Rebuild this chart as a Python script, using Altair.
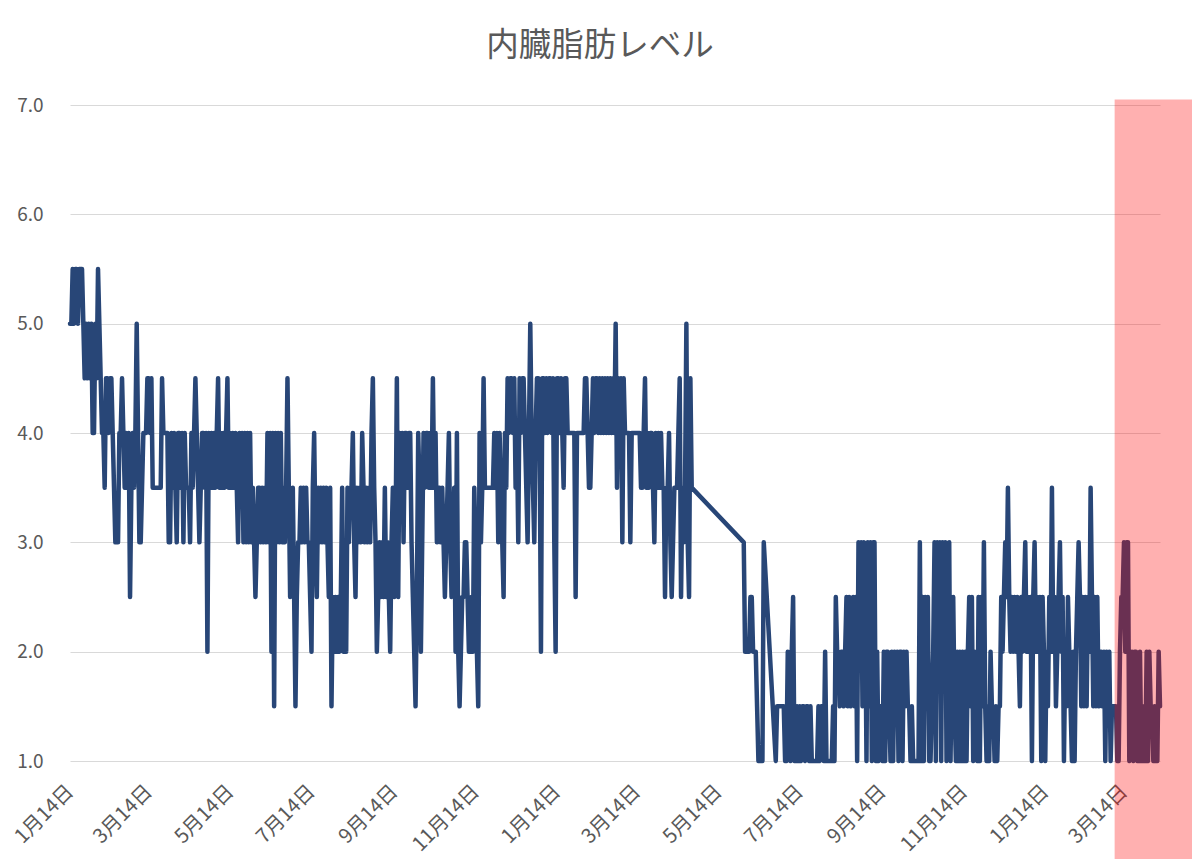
import altair as alt
import pandas as pd

title_text = "内臓脂肪レベル"

# --- series: daily values, consecutive days from each segment start ---
seg_a_start = "2019-01-14"
a1 = [5.0,5.0,5.5,5.0,5.5,5.5,5.0,5.5,5.5,5.5, 5.0,4.5,5.0,4.5,5.0,4.5,5.0,4.0,4.0,5.0,
      4.5,5.5,5.0,4.5,4.0,4.0,3.5,4.5,4.5,4.0, 4.5,4.5,4.0,3.5,3.0,3.0,3.0,4.0,4.0,4.5,
      4.0,3.5,4.0,3.5,4.0,2.5,3.5,4.0,3.5,4.0, 5.0,4.0,3.0,3.0,3.5,4.0,4.0,4.0,4.5,4.5,
      4.0,4.5,3.5,3.5]
a2 = [3.5,3.5,3.5,3.5,3.5, 4.5,4.0,4.0,4.0,4.0, 3.0,3.0,4.0,3.5,4.0, 3.5,3.0,4.0,4.0,3.5,
      4.0,3.0,4.0,3.5,3.5, 3.5,3.0,4.0,3.5,4.0, 4.5,4.0,3.5,3.0,3.5, 4.0,4.0,3.5,4.0,2.0,
      4.0,3.5,4.0,3.5,4.0, 3.5,4.0,4.5,3.5,4.0, 3.5,4.0,3.5,4.0,4.5, 3.5,4.0,3.5,4.0,3.5,
      4.0,3.5,3.0,4.0,3.5, 4.0,3.0,4.0]
a3 = [3.0,4.0,3.0,4.0,3.0, 3.5,3.0,2.5,3.0,3.5, 3.5,3.0,3.5,3.0,3.5, 3.0,4.0,3.0,4.0,2.0,
      4.0,1.5,4.0,3.0,4.0, 3.0,4.0,3.0,3.5,3.0, 3.5,4.5,3.5,2.5,3.0, 3.5,2.5,1.5,2.5,3.0,
      3.0,3.5,3.0,3.5,3.0, 3.5,3.0,3.0,2.5,2.0, 3.5,4.0,3.0,2.5,3.5, 3.0,3.5,3.0,3.5,3.0,
      3.5,3.0,2.5,3.5,1.5, 2.5,2.0,2.5]
a4 = [2.0,2.5,2.0,2.5,3.5, 2.0,2.5,2.0,3.5,3.0, 3.5,3.5,4.0,3.0,2.5, 3.5,3.0,3.5,3.0,4.0,
      3.5,3.0,3.5,3.0,3.5, 3.0,4.0,4.5,3.5,3.0, 2.0,2.5,3.0,2.5,3.0, 2.5,3.5,2.5,3.0,2.5,
      2.0,3.0,3.5,2.5,3.0, 4.5,2.5,4.0,3.5,4.0, 3.0,4.0,4.0,3.5,4.0, 4.0,3.0,2.5,2.0,1.5,
      2.5,4.0,3.5,2.0,3.0, 4.0,3.5]
a5 = [4.0,4.0,3.5,4.0,3.5, 4.5,3.5,4.0,3.0,3.5, 3.5,3.0,3.5,3.0,2.5, 3.0,3.5,4.0,3.0,2.5,
      3.0,3.5,2.0,4.0,2.0, 1.5,2.0,2.5,2.5,3.0, 3.0,2.5,2.0,2.0,2.5, 2.0,3.5,3.0,2.0,1.5,
      4.0,3.0,3.5,4.5,3.5, 3.5,3.5,3.5,3.5,3.5, 3.5,4.0,3.5,4.0,3.0, 4.0,3.5,3.0,2.5,4.0,
      3.5,4.5,4.0,4.5,4.5, 4.0,4.5,3.5]
a6 = [4.0,3.0,4.5,4.0,4.5, 4.5,4.0,3.5,3.0,4.0, 5.0,4.0,3.5,3.0,4.0, 4.5,4.5,4.0,2.0,4.5,
      4.5,4.0,4.5,4.0,4.5, 4.5,4.0,4.5,3.0,2.0, 4.5,4.5,4.0,4.5,4.0, 3.5,4.5,4.5,4.0,4.0,
      4.0,4.0,4.0,4.0,2.5, 4.0,4.0,4.0,4.0,4.0, 4.0,4.5,4.5,4.0,3.5, 3.5,4.0,4.5,4.0,4.5,
      4.5,4.0,4.5,4.0,4.5]
a7 = [4.0,4.5,4.0,4.5,4.0, 4.5,4.0,4.5,4.0,5.0, 3.5,4.5,4.0,4.5,3.0, 4.5,4.0,4.0,4.0,4.0,
      3.0,4.0,4.0,4.0,4.0, 4.0,4.0,4.0,3.5,3.5, 4.0,4.5,3.5,4.0,3.5, 4.0,4.0,3.5,3.0,4.0,
      3.5,4.0,3.5,4.0,3.5, 3.5,2.5,3.5,3.5,4.0, 3.0,2.5,3.0,3.5,3.5, 3.5,4.0,4.5,2.5,3.5,
      3.0,3.5,5.0,3.0,2.5, 4.5,3.5]

seg_b_start = "2020-06-02"
b1 = [3.0,2.0,2.0,2.0,2.0,2.5,2.5,2.0,2.0,2.0,1.5,1.0,1.0,1.0,1.0,3.0]

seg_c_start = "2020-06-26"
c1 = [1.0,1.5,1.5,1.5,1.5, 1.5,1.5,1.0,1.0,2.0, 1.5,1.0,2.0,2.5,1.0, 1.0,1.5,1.0,1.5,1.0,
      1.5,1.5,1.0,1.5,1.5, 1.0,1.5,1.0,1.0,1.0, 1.0,1.0,1.5,1.0,1.5, 1.5,1.0,2.0,1.0,1.0,
      1.0,1.0,1.0,1.5,1.0, 2.5,2.0,2.0,1.5,2.0, 2.0,1.5,2.0,2.5,1.5, 2.5,1.5,2.0,2.5,1.5,
      2.5,1.0,3.0,2.0,3.0, 1.5,3.0,2.5,1.0]
c2 = [3.0,1.5,3.0,1.0,3.0, 3.0,1.0,2.0,1.0,1.5, 1.5,1.0,2.0,1.0,2.0, 2.0,1.5,1.0,2.0,1.0,
      2.0,1.5,2.0,1.0,2.0, 2.0,1.0,2.0,1.5,2.0, 1.5,1.5,1.0,1.5,1.0, 1.0,1.0,1.0,1.0,3.0,
      1.0,2.5,1.0,2.5,1.5, 2.5,1.0,1.0,1.5,2.0, 3.0,1.0,3.0,2.0,3.0, 1.0,3.0,2.5,3.0,1.0,
      2.0,3.0,1.0,2.0,2.5, 1.5,1.0,2.0,1.0,2.0, 1.0,2.0]
c3 = [1.0,2.0,1.0,2.0,2.5, 1.5,2.5,1.0,2.0,1.5, 1.0,2.5,1.0,2.5,1.5, 3.0,1.5,1.0,1.5,1.0,
      2.0,1.5,1.5,1.0,1.5, 1.0,1.5,1.5,2.5,2.0, 2.5,3.0,2.5,3.5,2.5, 2.0,2.5,2.0,2.5,2.0,
      2.5,2.0,1.5,2.5,2.0, 2.5,3.0,2.0,2.5,2.0, 2.5,1.0,2.5,3.0,2.0, 2.5,2.0,2.5,1.0,2.5,
      2.0,1.0,2.0,1.5,2.5, 2.0,3.5,2.0,2.5,1.5, 2.0,2.5]
c4 = [3.0,2.0,2.5,1.0,2.0, 1.5,2.5,2.0,1.5,1.0, 2.0,1.0,2.0,2.5,3.0, 2.5,1.5,2.5,1.5,2.5,
      1.5,2.5,2.0,3.5,2.5, 1.5,2.5,1.5,2.5,1.5, 2.0,2.0,1.5,2.0,1.0, 2.0,1.5,2.0,1.0,1.5,
      1.5,1.5,1.5,1.0,1.0, 2.0,2.5,2.5,3.0,2.0, 3.0,3.0,1.0,1.5,2.0, 1.0,2.0,2.0,1.0,1.0,
      2.0,1.0,1.5,1.0,1.0, 2.0,1.0,2.0,1.5,1.5, 1.0,1.5,1.0,1.0,2.0, 1.5]

# --- axis ticks and ranges ---
tick_dates = ["2019-01-14", "2019-03-14", "2019-05-14", "2019-07-14", "2019-09-14",
              "2019-11-14", "2020-01-14", "2020-03-14", "2020-05-14", "2020-07-14",
              "2020-09-14", "2020-11-14", "2021-01-14", "2021-03-14"]
y_ticks = [1.0, 2.0, 3.0, 4.0, 5.0, 6.0, 7.0]
x_range = ["2019-01-14", "2021-04-10"]
y_range = [1.0, 7.0]

# --- highlighted period (pink box) ---
hl_start = ["2021-03-07"]
hl_end = ["2021-06-30"]
hl_top = [7.05]
hl_bottom = [0.0]


def ms(d):
    return int(pd.Timestamp(d, tz="UTC").value // 10**6)


segments = [(seg_a_start, a1 + a2 + a3 + a4 + a5 + a6 + a7),
            (seg_b_start, b1),
            (seg_c_start, c1 + c2 + c3 + c4)]
frames = []
for start, vals in segments:
    dates = pd.date_range(start, periods=len(vals), freq="D")
    frames.append(pd.DataFrame({"date": dates.strftime("%Y-%m-%d"), "level": vals}))
df = pd.concat(frames, ignore_index=True)

hl = pd.DataFrame({"start": hl_start, "end": hl_end, "top": hl_top, "bottom": hl_bottom})

FONT = "Noto Sans CJK JP"
GREY = "#595959"

x_scale = alt.Scale(type="utc", domain=[ms(d) for d in x_range], nice=False)
y_scale = alt.Scale(domain=y_range, nice=False, zero=False)

x_axis = alt.Axis(
    values=[ms(d) for d in tick_dates],
    labelExpr="utcFormat(datum.value, '%-m月%-d日')",
    labelAngle=-45, labelAlign="right", labelBaseline="middle",
    labelPadding=27, labelFontSize=20, labelColor=GREY, labelFont=FONT,
    labelOverlap=False, labelFlush=False,
    ticks=False, tickSize=0, domain=False, grid=False, title=None,
)
y_axis = alt.Axis(
    values=y_ticks, format=".1f",
    labelPadding=27, labelFontSize=19, labelColor=GREY, labelFont=FONT,
    ticks=False, tickSize=0, domain=False, grid=True,
    gridColor="#d9d9d9", gridWidth=1.2, title=None,
)

line = alt.Chart(df).mark_line(
    color="#284677", strokeWidth=4.5, strokeJoin="round", strokeCap="round"
).encode(
    x=alt.X("date:T", scale=x_scale, axis=x_axis),
    y=alt.Y("level:Q", scale=y_scale, axis=y_axis),
)

box = alt.Chart(hl).mark_rect(color="#FF0000", opacity=0.31, clip=False).encode(
    x=alt.X("start:T", scale=x_scale),
    x2="end:T",
    y=alt.Y("top:Q", scale=y_scale),
    y2="bottom:Q",
)

chart = alt.layer(line, box).properties(
    width=1090,
    height=656,
    padding={"left": 62, "top": 97, "right": 32, "bottom": 98},
    autosize=alt.AutoSizeParams(type="none"),
    title=alt.Title(title_text, fontSize=32.5, color=GREY, font=FONT,
                    fontWeight="normal", anchor="middle", offset=34, dx=-15),
    background="white",
).configure_view(strokeWidth=0)

chart.save("out.html", embed_options={"renderer": "svg", "actions": False})
